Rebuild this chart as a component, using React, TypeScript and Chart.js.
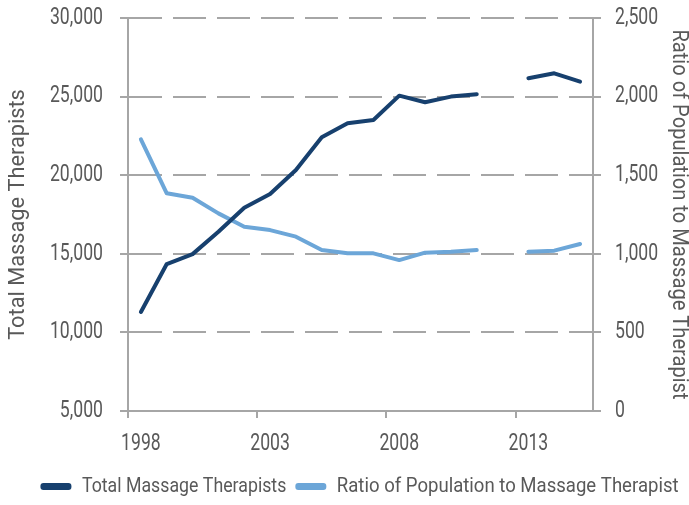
import { useEffect, useRef } from 'react';
import { Chart, registerables } from 'chart.js';

Chart.register(...registerables);

const years = ['1998', '1999', '2000', '2001', '2002', '2003', '2004', '2005', '2006', '2007', '2008', '2009', '2010', '2011', '2012', '2013', '2014', '2015'];
const totalTherapists = [11300, 14350, 14980, 16400, 17930, 18800, 20330, 22410, 23300, 23510, 25060, 24640, 25000, 25150, null, 26170, 26480, 25950];
const populationRatio = [1728, 1385, 1357, 1257, 1172, 1151, 1109, 1024, 1003, 1003, 960, 1007, 1013, 1024, null, 1013, 1020, 1062];

const leftTitle = 'Total Massage Therapists';
const rightTitle = 'Ratio of Population to Massage Therapist';

const FONT = 'Roboto, "Noto Sans", sans-serif';
const TEXT = '#595959';
const GRID = '#a6a6a6';
const DARK = '#17406e';
const LIGHT = '#6ca6d8';

// horizontal squeeze to imitate the condensed typeface of the original
function squeezeFor(ctx: CanvasRenderingContext2D, text: string) {
  const m = /([\d.]+)px/.exec(ctx.font);
  const size = m ? parseFloat(m[1]) : 0;
  if (size >= 22.5) return 0.767; // tick labels
  if (size >= 21.5) return text === rightTitle ? 0.914 : 0.989; // axis titles
  if (size >= 20.5) return text === rightTitle ? 0.884 : 0.845; // legend
  return 1;
}

const condensePlugin = {
  id: 'condense',
  beforeInit(chart: any) {
    const ctx: any = chart.ctx;
    if (ctx.__condensed) return;
    ctx.__condensed = true;
    const origFill = ctx.fillText.bind(ctx);
    const origMeasure = ctx.measureText.bind(ctx);
    ctx.fillText = (text: string, x: number, y: number, maxWidth?: number) => {
      const sx = squeezeFor(ctx, String(text));
      ctx.save();
      ctx.translate(x, y);
      ctx.scale(sx, 1);
      if (maxWidth !== undefined) origFill(text, 0, 0, maxWidth / sx);
      else origFill(text, 0, 0);
      ctx.restore();
    };
    ctx.measureText = (text: string) => {
      const sx = squeezeFor(ctx, String(text));
      const m = origMeasure(text);
      return {
        width: m.width * sx,
        actualBoundingBoxAscent: m.actualBoundingBoxAscent,
        actualBoundingBoxDescent: m.actualBoundingBoxDescent,
        actualBoundingBoxLeft: m.actualBoundingBoxLeft * sx,
        actualBoundingBoxRight: m.actualBoundingBoxRight * sx,
        fontBoundingBoxAscent: m.fontBoundingBoxAscent,
        fontBoundingBoxDescent: m.fontBoundingBoxDescent,
      };
    };
  },
};

export default function App() {
  const ref = useRef<HTMLCanvasElement | null>(null);

  useEffect(() => {
    if (!ref.current) return;
    const chart = new Chart(ref.current, {
      type: 'line',
      data: {
        labels: years,
        datasets: [
          {
            label: leftTitle,
            data: totalTherapists,
            borderColor: DARK,
            backgroundColor: DARK,
            borderWidth: 4,
            pointRadius: 0,
            borderCapStyle: 'round',
            borderJoinStyle: 'round',
            yAxisID: 'y',
            spanGaps: false,
          },
          {
            label: rightTitle,
            data: populationRatio,
            borderColor: LIGHT,
            backgroundColor: LIGHT,
            borderWidth: 4,
            pointRadius: 0,
            borderCapStyle: 'round',
            borderJoinStyle: 'round',
            yAxisID: 'y1',
            spanGaps: false,
          },
        ],
      },
      plugins: [condensePlugin],
      options: {
        responsive: false,
        animation: false,
        layout: { padding: { top: 18, left: 30, right: 0, bottom: -2 } },
        plugins: {
          tooltip: { enabled: false },
          legend: {
            position: 'bottom',
            labels: {
              boxWidth: 31,
              boxHeight: 7,
              padding: 9,
              color: TEXT,
              font: { family: FONT, size: 21 },
              useBorderRadius: true,
              borderRadius: 3,
              generateLabels: (c: any) =>
                Chart.defaults.plugins.legend.labels.generateLabels(c).map((l: any) => ({ ...l, lineWidth: 0 })),
            },
          },
        },
        scales: {
          x: {
            type: 'category',
            offset: true,
            afterFit: (s: any) => { s.height = 56; },
            grid: {
              offset: true,
              drawOnChartArea: false,
              tickLength: 7,
              lineWidth: 2,
              color: (ctx: any) => (ctx.index % 5 === 0 ? GRID : 'rgba(0,0,0,0)'),
            },
            border: { display: true, color: GRID, width: 2 },
            ticks: {
              autoSkip: false,
              maxRotation: 0,
              padding: 12,
              color: TEXT,
              font: { family: FONT, size: 23 },
              callback: (_v: any, i: number) => (i % 5 === 0 ? years[i] : ''),
            },
          },
          y: {
            position: 'left',
            min: 5000,
            max: 30000,
            afterFit: (s: any) => { s.width = 98; s.paddingTop = 10; s.paddingBottom = 10; },
            grid: {
              color: GRID,
              lineWidth: 2,
              tickLength: 8,
              tickBorderDash: [],
            },
            border: { display: true, color: GRID, width: 2, dash: [33, 11] },
            ticks: {
              stepSize: 5000,
              padding: 17,
              color: TEXT,
              font: { family: FONT, size: 23 },
              callback: (v: any) => Number(v).toLocaleString('en-US'),
            },
            title: {
              display: true,
              text: leftTitle,
              color: TEXT,
              font: { family: FONT, size: 22 },
              padding: { top: -25, bottom: 0 },
            },
          },
          y1: {
            position: 'right',
            min: 0,
            max: 2500,
            afterFit: (s: any) => { s.width = 96; s.paddingTop = 10; s.paddingBottom = 10; },
            grid: {
              drawOnChartArea: false,
              color: GRID,
              lineWidth: 2,
              tickLength: 8,
            },
            border: { display: true, color: GRID, width: 2 },
            ticks: {
              stepSize: 500,
              padding: 14,
              color: TEXT,
              font: { family: FONT, size: 23 },
              callback: (v: any) => Number(v).toLocaleString('en-US'),
            },
            title: {
              display: true,
              text: rightTitle,
              color: TEXT,
              font: { family: FONT, size: 22 },
              padding: { top: -3, bottom: 0 },
            },
          },
        },
      },
    } as any);
    return () => chart.destroy();
  }, []);

  return (
    <div style={{ position: 'absolute', left: 0, top: 0, width: 689, height: 505 }}>
      <canvas ref={ref} width={689} height={505} />
    </div>
  );
}
